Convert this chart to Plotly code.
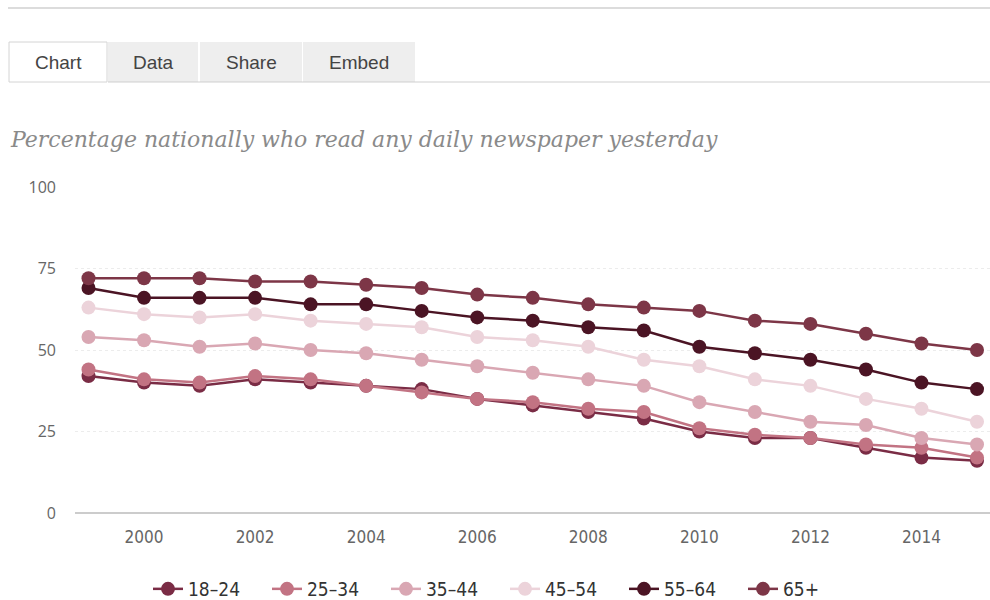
import plotly.graph_objects as go

years = list(range(1999, 2016))

age_groups = ["18\u201324", "25\u201334", "35\u201344", "45\u201354", "55\u201364", "65+"]

reach_18_24 = [42, 40, 39, 41, 40, 39, 38, 35, 33, 31, 29, 25, 23, 23, 20, 17, 16]
reach_25_34 = [44, 41, 40, 42, 41, 39, 37, 35, 34, 32, 31, 26, 24, 23, 21, 20, 17]
reach_35_44 = [54, 53, 51, 52, 50, 49, 47, 45, 43, 41, 39, 34, 31, 28, 27, 23, 21]
reach_45_54 = [63, 61, 60, 61, 59, 58, 57, 54, 53, 51, 47, 45, 41, 39, 35, 32, 28]
reach_55_64 = [69, 66, 66, 66, 64, 64, 62, 60, 59, 57, 56, 51, 49, 47, 44, 40, 38]
reach_65_up = [72, 72, 72, 71, 71, 70, 69, 67, 66, 64, 63, 62, 59, 58, 55, 52, 50]

series = [reach_18_24, reach_25_34, reach_35_44, reach_45_54, reach_55_64, reach_65_up]
colors = ["#7a2c45", "#c27383", "#d9a7b3", "#ecd3da", "#4b1424", "#7d3647"]

tab_labels = ["Chart", "Data", "Share", "Embed"]
title_text = "Percentage nationally who read any daily newspaper yesterday"

W, H = 990, 600
L, R, T, B = 75, 990, 187, 513  # plot area in page pixels


def px(x):
    return (x - L) / (R - L)


def py(y):
    return (B - y) / (B - T)


fig = go.Figure()
for name, vals, col in zip(age_groups, series, colors):
    fig.add_trace(go.Scatter(
        x=years, y=vals, name=name, mode="lines+markers",
        line=dict(color=col, width=2.5),
        marker=dict(color=col, size=14),
        cliponaxis=False,
    ))

shapes = []
# thin rule at the very top
shapes.append(dict(type="line", xref="paper", yref="paper",
                   x0=px(8), x1=px(990), y0=py(8), y1=py(8),
                   line=dict(color="#d0d0d0", width=1.5)))
# tab strip
tab_edges = [(9, 107), (108, 198), (200, 302), (303, 415)]
for i, (a, b) in enumerate(tab_edges):
    if i == 0:
        shapes.append(dict(type="rect", xref="paper", yref="paper",
                           x0=px(a), x1=px(b), y0=py(82), y1=py(42),
                           fillcolor="white", line=dict(color="#d4d4d4", width=1)))
    else:
        shapes.append(dict(type="rect", xref="paper", yref="paper",
                           x0=px(a), x1=px(b), y0=py(82), y1=py(42),
                           fillcolor="#eeeeee", line=dict(width=0)))
shapes.append(dict(type="line", xref="paper", yref="paper",
                   x0=px(108), x1=px(990), y0=py(82), y1=py(82),
                   line=dict(color="#cfcfcf", width=1)))

annotations = []
for (a, b), lab in zip(tab_edges, tab_labels):
    annotations.append(dict(text=lab, xref="paper", yref="paper",
                            x=px((a + b) / 2), y=py(62), xanchor="center", yanchor="middle",
                            showarrow=False,
                            font=dict(family="Liberation Sans, Arial, sans-serif", size=19, color="#444")))
annotations.append(dict(text="<i>" + title_text + "</i>", xref="paper", yref="paper",
                        x=px(8), y=py(140), xanchor="left", yanchor="middle", showarrow=False,
                        font=dict(family="DejaVu Serif, Georgia, serif", size=22, color="#8a8a8a")))

fig.update_layout(
    width=W, height=H,
    margin=dict(l=L, r=W - R, t=T, b=H - B, autoexpand=False),
    paper_bgcolor="white", plot_bgcolor="white",
    shapes=shapes, annotations=annotations,
    showlegend=True,
    legend=dict(orientation="h", x=px(505), xanchor="center", y=py(589), yanchor="middle",
                entrywidth=74, entrywidthmode="pixels", itemwidth=30,
                font=dict(family="DejaVu Sans Condensed, DejaVu Sans, sans-serif", size=19, color="#333")),
    xaxis=dict(range=[1998.757, 2015.234], tickvals=list(range(2000, 2016, 2)),
               showgrid=False, zeroline=False, showline=False, ticks="", ticklabelstandoff=12,
               tickfont=dict(family="DejaVu Sans Condensed, DejaVu Sans, sans-serif", size=17, color="#666")),
    yaxis=dict(range=[0, 100], tickvals=[0, 25, 50, 75, 100], showgrid=True,
               gridcolor="#ececec", griddash="dot", gridwidth=1,
               zeroline=True, zerolinecolor="#cccccc", zerolinewidth=1.5,
               showline=False, ticks="", ticklabelstandoff=18,
               tickfont=dict(family="Open Sans, sans-serif", size=16, color="#666")),
)

fig.write_html("out.html")
